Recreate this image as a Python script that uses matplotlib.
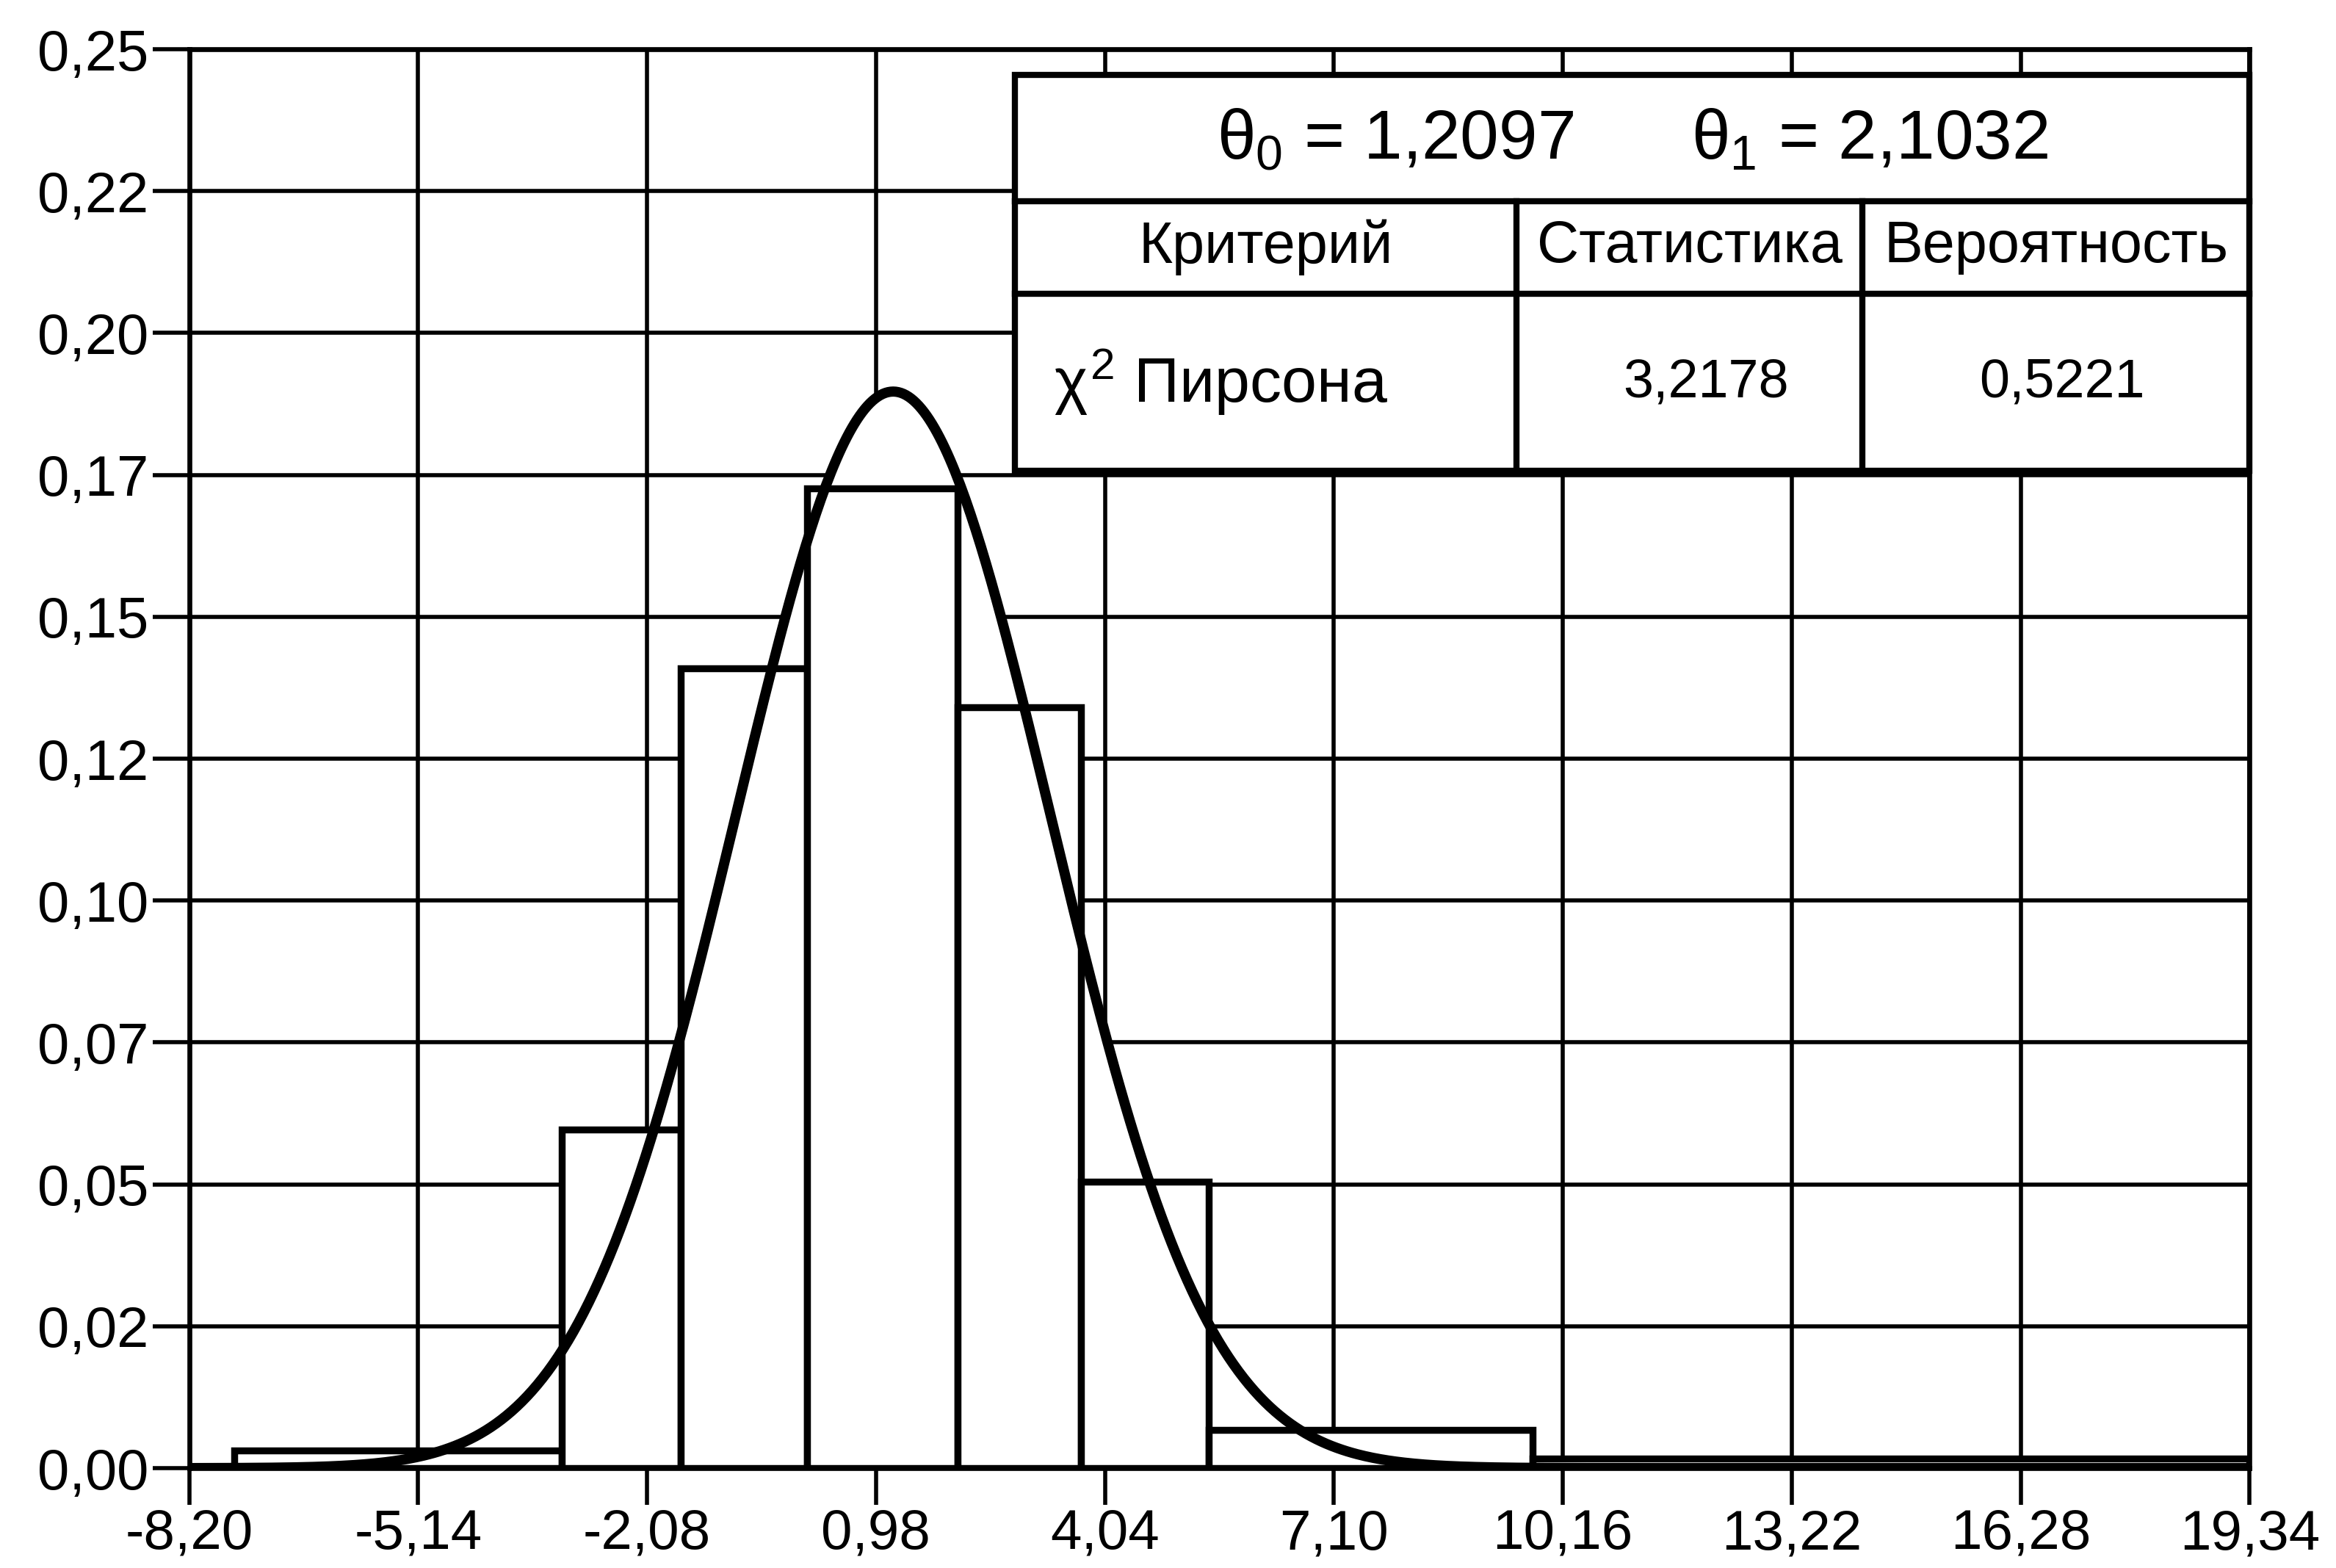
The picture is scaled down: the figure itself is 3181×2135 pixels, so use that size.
import matplotlib.pyplot as plt
import numpy as np
from matplotlib.patches import Rectangle

plt.rcParams['font.family'] = ['Liberation Sans', 'DejaVu Sans']
plt.rcParams['mathtext.fontset'] = 'custom'
plt.rcParams['mathtext.rm'] = 'Liberation Sans'
plt.rcParams['mathtext.it'] = 'Liberation Sans'

# grouped sample: interval edges and relative frequency density
edges = [-7.60, -3.22, -1.63, 0.06, 2.07, 3.72, 5.43, 9.76, 19.34]
density = [0.0031, 0.0596, 0.1409, 0.1726, 0.1340, 0.0505, 0.0067, 0.0017]

# fitted normal law parameters and goodness-of-fit result
theta0 = 1.2097
theta1 = 2.1032
stat_value = "3,2178"
p_value = "0,5221"

x_ticks = [-8.20, -5.14, -2.08, 0.98, 4.04, 7.10, 10.16, 13.22, 16.28, 19.34]
x_labels = ["-8,20", "-5,14", "-2,08", "0,98", "4,04", "7,10", "10,16", "13,22", "16,28", "19,34"]
y_ticks = [0.0, 0.025, 0.05, 0.075, 0.10, 0.125, 0.15, 0.175, 0.20, 0.225, 0.25]
y_labels = ["0,00", "0,02", "0,05", "0,07", "0,10", "0,12", "0,15", "0,17", "0,20", "0,22", "0,25"]

fig = plt.figure(figsize=(15.905, 10.675), dpi=200)
ax = fig.add_axes([0.0810, 0.0637, 0.8820, 0.9049])

ax.set_xlim(x_ticks[0], x_ticks[-1])
ax.set_ylim(0, 0.25)
ax.set_xticks(x_ticks)
ax.set_xticklabels(x_labels, fontsize=27.5)
ax.set_yticks(y_ticks)
ax.set_yticklabels(y_labels, fontsize=28)
ax.tick_params(direction='out', length=18, width=2.0, pad=2, colors='black')
ax.grid(True, color='black', linewidth=2.0)
ax.set_axisbelow(True)
for s in ax.spines.values():
    s.set_linewidth(2.4)
    s.set_zorder(5)

# normal density with the fitted parameters
xs = np.linspace(x_ticks[0], x_ticks[-1], 800)
pdf = np.exp(-0.5 * ((xs - theta0) / theta1) ** 2) / (theta1 * np.sqrt(2 * np.pi))
ax.fill_between(xs, pdf, 0, color='white', zorder=1.5, linewidth=0)

lefts = edges[:-1]
widths = np.diff(edges)
ax.bar(lefts, density, width=widths, align='edge', facecolor='white',
       edgecolor='black', linewidth=3.4, zorder=2)
ax.plot(xs, pdf, color='black', linewidth=5.0, zorder=3, solid_capstyle='butt')

# results table in the upper right corner
tx0, tx1 = 0.4006, 1.0
ty0, ty1 = 0.7027, 0.982
row1, row2 = 0.8929, 0.8277
col1, col2 = 0.6443, 0.8120
tr = ax.transAxes
ax.add_patch(Rectangle((tx0, ty0), tx1 - tx0, ty1 - ty0, transform=tr,
                       facecolor='white', edgecolor='black', linewidth=3.0,
                       zorder=6, clip_on=False))
lw = 3.0
ax.plot([tx0, tx1], [row1, row1], transform=tr, color='black', lw=lw, zorder=7, clip_on=False)
ax.plot([tx0, tx1], [row2, row2], transform=tr, color='black', lw=lw, zorder=7, clip_on=False)
ax.plot([col1, col1], [ty0, row1], transform=tr, color='black', lw=lw, zorder=7, clip_on=False)
ax.plot([col2, col2], [ty0, row1], transform=tr, color='black', lw=lw, zorder=7, clip_on=False)

title = r"$\theta_0$ = %s      $\theta_1$ = %s" % (f"{theta0:.4f}".replace('.', ','),
                                                   f"{theta1:.4f}".replace('.', ','))
ax.text((tx0 + tx1) / 2, (row1 + ty1) / 2 - 0.002, title, transform=tr, fontsize=34,
        ha='center', va='center', zorder=8)

mid2 = (row2 + row1) / 2
ax.text((tx0 + col1) / 2, mid2, "Критерий", transform=tr, fontsize=28.5,
        ha='center', va='center', zorder=8)
ax.text((col1 + col2) / 2, mid2, "Статистика", transform=tr, fontsize=28.5,
        ha='center', va='center', zorder=8)
ax.text((col2 + tx1) / 2, mid2, "Вероятность", transform=tr, fontsize=28.5,
        ha='center', va='center', zorder=8)

mid3 = (ty0 + row2) / 2
ax.text(tx0 + 0.019, mid3, r"$\chi^2$ Пирсона", transform=tr, fontsize=31,
        ha='left', va='center', zorder=8)
ax.text((col1 + col2) / 2 + 0.008, mid3, stat_value, transform=tr, fontsize=26.5,
        ha='center', va='center', zorder=8)
ax.text((col2 + tx1) / 2 + 0.003, mid3, p_value, transform=tr, fontsize=26.5,
        ha='center', va='center', zorder=8)

fig.savefig("out.png", dpi=200, facecolor='white')
